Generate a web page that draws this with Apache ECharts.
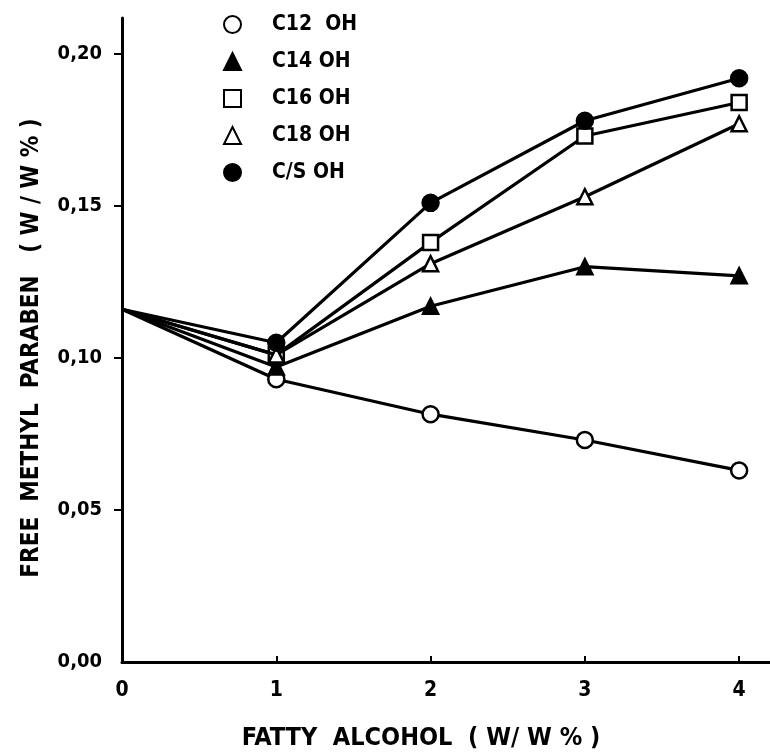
<!DOCTYPE html>
<html>
<head>
<meta charset="utf-8">
<script src="https://cdn.jsdelivr.net/npm/echarts@6/dist/echarts.min.js"></script>
<style>
  html, body { margin: 0; padding: 0; background: #fff; }
  #chart { width: 770px; height: 756px; }
</style>
</head>
<body>
<div id="chart"></div>
<script>
// Fatty alcohol concentration (w/w %) on the x axis
const alcoholLevels = [0, 1, 2, 3, 4];
const xTickLabels = [0, 1, 2, 3, 4];
const yTickValues = [0, 0.05, 0.10, 0.15, 0.20];

// Free methyl paraben (w/w %) for each fatty alcohol
const c12 = [0.116, 0.093, 0.0815, 0.073, 0.063];
const c14 = [0.116, 0.097, 0.117, 0.130, 0.127];
const c16 = [0.116, 0.101, 0.138, 0.173, 0.184];
const c18 = [0.116, 0.101, 0.131, 0.153, 0.177];
const cs  = [0.116, 0.105, 0.151, 0.178, 0.192];

const seriesNames = ['C12  OH', 'C14 OH', 'C16 OH', 'C18 OH', 'C/S OH'];
const FONT = "'DejaVu Sans Condensed', 'DejaVu Sans', sans-serif";

// The shared starting value at 0 % carries no marker
function pairs(values) {
  return alcoholLevels.map((x, i) =>
    i === 0 ? { value: [x, values[i]], symbol: 'none' } : [x, values[i]]
  );
}

const markerDefs = [
  { symbol: 'circle',   filled: false, values: c12 },
  { symbol: 'triangle', filled: true,  values: c14 },
  { symbol: 'rect',     filled: false, values: c16 },
  { symbol: 'triangle', filled: false, values: c18 },
  { symbol: 'circle',   filled: true,  values: cs  }
];

const series = markerDefs.map((m, i) => ({
  name: seriesNames[i],
  type: 'line',
  data: pairs(m.values),
  symbol: m.symbol,
  symbolSize: m.symbol === 'circle' ? 16 : 15,
  showAllSymbol: true,
  lineStyle: { color: '#000', width: 3.2 },
  itemStyle: {
    color: m.filled ? '#000' : '#fff',
    borderColor: '#000',
    borderWidth: 2.5
  },
  emphasis: { disabled: true },
  z: 2 + i
}));

const chart = echarts.init(document.getElementById('chart'), null, { renderer: 'canvas' });
chart.setOption({
  animation: false,
  backgroundColor: '#fff',
  textStyle: { fontFamily: FONT, color: '#000' },
  grid: { left: 122, right: 0, top: 18, bottom: 90, containLabel: false },
  legend: {
    orient: 'vertical',
    left: 218,
    top: 9,
    itemWidth: 17,
    itemHeight: 17,
    itemGap: 16,
    selectedMode: false,
    data: markerDefs.map((m, i) => ({ name: seriesNames[i], icon: m.symbol })),
    textStyle: { fontFamily: FONT, fontSize: 21, fontWeight: 'bold', color: '#000', padding: [0, 0, 0, 26] }
  },
  xAxis: {
    type: 'value',
    min: 0,
    max: 4.2,
    name: 'FATTY  ALCOHOL  ( W/ W % )',
    nameLocation: 'middle',
    nameGap: 64,
    nameTextStyle: { fontFamily: FONT, fontSize: 25, fontWeight: 'bold', color: '#000', padding: [0, 50, 0, 0] },
    axisLine: { lineStyle: { color: '#000', width: 3 } },
    axisTick: { inside: true, length: 6, lineStyle: { color: '#000', width: 2 }, customValues: [1, 2, 3, 4] },
    axisLabel: { customValues: xTickLabels, fontSize: 21, fontWeight: 'bold', color: '#000', margin: 18, fontFamily: FONT },
    splitLine: { show: false }
  },
  yAxis: {
    type: 'value',
    min: 0,
    max: 0.2118,
    name: 'FREE  METHYL  PARABEN   ( W / W % )',
    nameLocation: 'middle',
    nameRotate: 90,
    nameGap: 78,
    nameTextStyle: { fontFamily: FONT, fontSize: 24, fontWeight: 'bold', color: '#000', padding: [0, 16, 0, 0] },
    axisLine: { lineStyle: { color: '#000', width: 3 } },
    axisTick: { length: 8, lineStyle: { color: '#000', width: 2 }, customValues: [0.05, 0.10, 0.15, 0.20] },
    axisLabel: {
      customValues: yTickValues,
      fontSize: 20,
      fontWeight: 'bold',
      color: '#000',
      margin: 20,
      fontFamily: FONT,
      formatter: v => v.toFixed(2).replace('.', ',')
    },
    splitLine: { show: false }
  },
  series: series
});
</script>
</body>
</html>
